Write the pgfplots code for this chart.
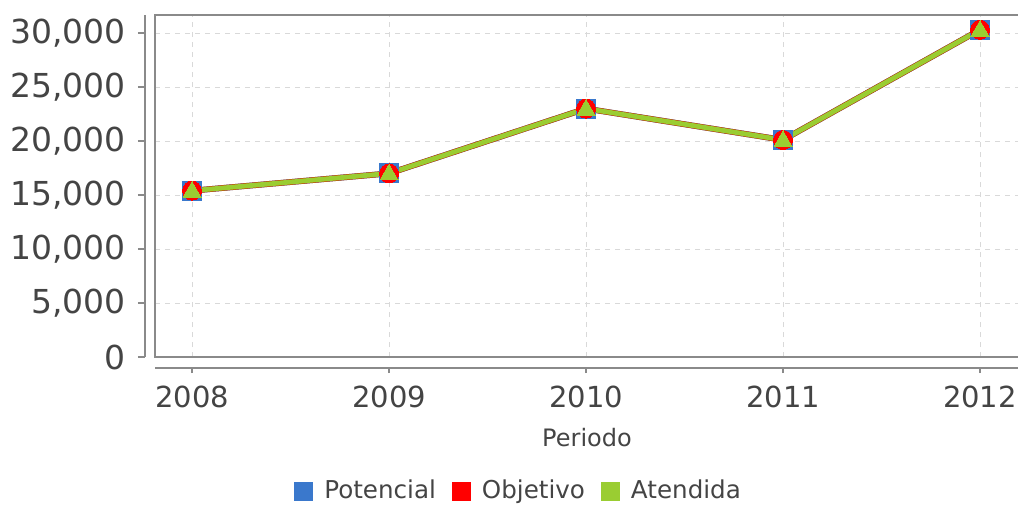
\documentclass[border=0pt]{standalone}
\usepackage{pgfplots}
\pgfplotsset{compat=1.18}
\usepackage{fontspec}
\setmainfont{DejaVu Sans}
\definecolor{cblue}{HTML}{3A78CC}
\definecolor{cred}{HTML}{FF0000}
\definecolor{cgreen}{HTML}{9ACD32}
\definecolor{axgray}{HTML}{8A8A8A}
\definecolor{txtgray}{HTML}{444444}
\begin{document}
\begin{tikzpicture}
\useasboundingbox (-77.5pt,-73.5pt) rectangle (431.5pt,178.5pt);
% main plot area
\begin{axis}[
  at={(0,0)}, anchor=south west,
  scale only axis, width=432pt, height=171pt,
  xmin=-0.188, xmax=4.198, ymin=0, ymax=31667,
  xtick={0,1,2,3,4}, ytick={0,5000,10000,15000,20000,25000,30000},
  xticklabels={}, yticklabels={},
  scaled y ticks=false, scaled x ticks=false,
  major tick length=0pt,
  axis line style={draw=axgray, line width=1pt},
  grid=major,
  grid style={draw=gray!30, line width=0.5pt, dash pattern=on 2.5pt off 2.5pt},
  legend columns=3,
  legend style={draw=none, fill=none, at={(0.422,-0.392)}, anchor=center,
    font=\fontsize{12.3}{14}\selectfont, text=txtgray,
    /tikz/every odd column/.append style={column sep=4pt},
    /tikz/every even column/.append style={column sep=6pt}},
  legend cell align=left,
]
\addlegendimage{only marks, mark=square*, mark size=4.5pt, draw=cblue, fill=cblue}
\addlegendentry{Potencial}
\addlegendimage{only marks, mark=square*, mark size=4.5pt, draw=cred, fill=cred}
\addlegendentry{Objetivo}
\addlegendimage{only marks, mark=square*, mark size=4.5pt, draw=cgreen, fill=cgreen}
\addlegendentry{Atendida}
\addplot[forget plot, draw=cblue, line width=2.9pt, mark=square*, mark size=4.75pt, mark options={draw=cblue, fill=cblue, line width=0pt}]
  coordinates {(0,15400) (1,17000) (2,23000) (3,20100) (4,30300)};
\addplot[forget plot, draw=cred!55!olive, line width=2.9pt, mark=*, mark size=4.75pt, mark options={draw=cred, fill=cred, line width=0pt}]
  coordinates {(0,15400) (1,17000) (2,23000) (3,20100) (4,30300)};
\addplot[forget plot, draw=cgreen, line width=2.4pt, mark=triangle*, mark size=5.2pt, mark options={draw=cgreen, fill=cgreen, line width=0pt, yshift=-0.6pt}]
  coordinates {(0,15400) (1,17000) (2,23000) (3,20100) (4,30300)};
\end{axis}
% offset y axis
\begin{axis}[
  at={(-5pt,0)}, anchor=south west,
  scale only axis, width=10pt, height=171pt,
  xmin=0, xmax=1, ymin=0, ymax=31667,
  axis x line=none, axis y line*=left,
  axis line style={draw=axgray, line width=1pt},
  ytick={0,5000,10000,15000,20000,25000,30000},
  tick align=outside, major tick length=3.5pt,
  tick style={draw=axgray, line width=0.8pt},
  scaled y ticks=false, scaled x ticks=false,
  yticklabel style={font=\fontsize{16.5}{18}\selectfont, text=txtgray, xshift=-2.5pt,
    /pgf/number format/assume math mode=true,
    /pgf/number format/1000 sep={,}},
]
\end{axis}
% offset x axis
\begin{axis}[
  at={(0,-5.5pt)}, anchor=south west,
  scale only axis, width=432pt, height=10pt,
  xmin=-0.188, xmax=4.198, ymin=0, ymax=1,
  axis y line=none, axis x line*=bottom,
  axis line style={draw=axgray, line width=1pt},
  xtick={0,1,2,3,4},
  xticklabels={2008,2009,2010,2011,2012},
  scaled y ticks=false, scaled x ticks=false,
  tick align=outside, major tick length=2.5pt,
  tick style={draw=axgray, line width=0.8pt},
  xticklabel style={font=\fontsize{14.5}{17}\selectfont, text=txtgray, yshift=-3pt},
  xlabel={Periodo},
  xlabel style={font=\fontsize{12}{14}\selectfont, text=txtgray, yshift=-3.5pt},
]
\end{axis}
\end{tikzpicture}
\end{document}
